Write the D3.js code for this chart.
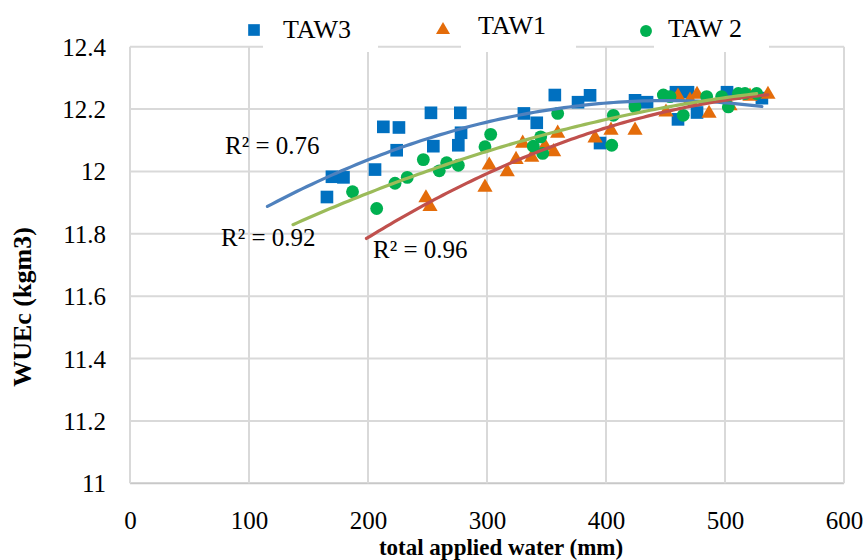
<!DOCTYPE html>
<html><head><meta charset="utf-8">
<script src="https://cdn.jsdelivr.net/npm/d3@7"></script>
<style>body{margin:0;background:#fff} svg text{font-family:"Liberation Serif","DejaVu Serif",serif;}</style>
</head><body>
<svg id="c" width="868" height="560"></svg>
<script>
// ---------- data ----------
const xTicks = [0, 100, 200, 300, 400, 500, 600];
const yTicks = [11, 11.2, 11.4, 11.6, 11.8, 12, 12.2, 12.4];
const seriesNames = ["TAW3", "TAW1", "TAW 2"];
const xTitle = "total applied water (mm)";
const yTitle = "WUEc (kgm3)";

const taw3X = [165.5, 169.7, 179.4, 205.9, 212.9, 226, 224.1, 252.9, 254.9, 277.6, 278.2, 275.9, 331, 341.8, 357, 376.5, 386.6, 395, 424.4, 434.5, 458.8, 468.9, 460.5, 476.5, 501.7, 531];
const taw3Y = [11.918, 11.983, 11.981, 12.006, 12.143, 12.141, 12.068, 12.188, 12.081, 12.188, 12.124, 12.084, 12.186, 12.156, 12.245, 12.222, 12.244, 12.091, 12.228, 12.222, 12.254, 12.254, 12.167, 12.189, 12.254, 12.235];

const taw1X = [248.7, 252.1, 298.3, 301.9, 317, 324.4, 330, 337.6, 348.7, 356, 359.4, 390.8, 404.2, 424.4, 450.4, 460.5, 476.5, 486.6, 470.6, 504.2, 521, 536.1];
const taw1Y = [11.915, 11.887, 11.949, 12.02, 11.999, 12.038, 12.09, 12.045, 12.081, 12.063, 12.122, 12.107, 12.132, 12.132, 12.19, 12.241, 12.247, 12.186, 12.228, 12.21, 12.241, 12.247];

const taw2X = [187, 207.3, 222.7, 233, 246.5, 259.9, 266.1, 275.9, 298.3, 303.1, 338.9, 345.1, 346.8, 359.4, 406.2, 404.8, 424.4, 448.2, 453.8, 464.9, 484.6, 502.8, 511.2, 516.8, 526.6, 497.2];
const taw2Y = [11.935, 11.881, 11.962, 11.981, 12.038, 12.002, 12.028, 12.02, 12.079, 12.119, 12.081, 12.111, 12.058, 12.186, 12.18, 12.084, 12.207, 12.245, 12.24, 12.18, 12.24, 12.207, 12.25, 12.25, 12.25, 12.24];

const r2Labels = ["R² = 0.76", "R² = 0.92", "R² = 0.96"];
const trendBackward = 50; // backward forecast of the polynomial trendlines

// ---------- styles ----------
const markerColors = ["#0070C0", "#E46C0A", "#00B050"];
const trendColors = ["#4F81BD", "#9BBB59", "#C0504D"];
const serif = "Liberation Serif, DejaVu Serif, serif";

const svg = d3.select("#c");
svg.append("rect").attr("width", 868).attr("height", 560).attr("fill", "#fff");

const x = d3.scaleLinear().domain([0, 600]).range([130, 844]);
const y = d3.scaleLinear().domain([11, 12.4]).range([483.3, 46.7]);

// gridlines
const grid = svg.append("g");
grid.selectAll("line.h").data(yTicks).join("line")
  .attr("x1", x(0)).attr("x2", x(600))
  .attr("y1", d => y(d)).attr("y2", d => y(d))
  .attr("stroke", d => d === 11 ? "#c8c8c8" : "#d9d9d9").attr("stroke-width", 2);
grid.selectAll("line.v").data(xTicks).join("line")
  .attr("y1", y(11)).attr("y2", y(12.4))
  .attr("x1", d => x(d)).attr("x2", d => x(d))
  .attr("stroke", "#d9d9d9").attr("stroke-width", 2);

// axes (labels only)
const xa = svg.append("g").attr("transform", `translate(0,${y(11)})`)
  .call(d3.axisBottom(x).tickValues(xTicks).tickSize(0).tickFormat(d3.format("d")));
xa.select(".domain").remove();
xa.attr("font-family", null);
xa.selectAll("text").attr("y", 46).attr("dy", 0)
  .style("font-family", serif).attr("font-size", 25).attr("fill", "#000");

const ya = svg.append("g").attr("transform", `translate(${x(0)},0)`)
  .call(d3.axisLeft(y).tickValues(yTicks).tickSize(0).tickPadding(24).tickFormat(d => d3.format("")(+d.toFixed(1))));
ya.select(".domain").remove();
ya.attr("font-family", null);
ya.selectAll("text").attr("dy", "0.34em")
  .style("font-family", serif).attr("font-size", 25).attr("fill", "#000");

// series
const series = [
  {name: seriesNames[0], xs: taw3X, ys: taw3Y, sym: d3.symbolSquare, size: 160, color: markerColors[0], trend: trendColors[0]},
  {name: seriesNames[1], xs: taw1X, ys: taw1Y, sym: d3.symbolTriangle, size: 100, color: markerColors[1], trend: trendColors[2]},
  {name: seriesNames[2], xs: taw2X, ys: taw2Y, sym: d3.symbolCircle, size: 130, color: markerColors[2], trend: trendColors[1]}
];

series.forEach(s => {
  const pts = s.xs.map((v, i) => [v, s.ys[i]]);
  svg.append("g").selectAll("path").data(pts).join("path")
    .attr("d", d3.symbol().type(s.sym).size(s.size))
    .attr("transform", d => `translate(${x(d[0])},${y(d[1])})`)
    .attr("fill", s.color);
});

// quadratic least squares fit (Excel polynomial trendline, order 2)
function quadFit(xs, ys) {
  const n = xs.length;
  const S = [0, 0, 0, 0, 0], T = [0, 0, 0];
  for (let i = 0; i < n; i++) {
    const u = xs[i] / 100;
    let p = 1;
    for (let k = 0; k < 5; k++) { S[k] += p; if (k < 3) T[k] += p * ys[i]; p *= u; }
  }
  const A = [[S[0], S[1], S[2], T[0]], [S[1], S[2], S[3], T[1]], [S[2], S[3], S[4], T[2]]];
  for (let c = 0; c < 3; c++) {
    for (let r = c + 1; r < 3; r++) {
      const f = A[r][c] / A[c][c];
      for (let k = c; k < 4; k++) A[r][k] -= f * A[c][k];
    }
  }
  const co = [0, 0, 0];
  for (let r = 2; r >= 0; r--) {
    let s = A[r][3];
    for (let k = r + 1; k < 3; k++) s -= A[r][k] * co[k];
    co[r] = s / A[r][r];
  }
  return xv => { const u = xv / 100; return co[0] + co[1] * u + co[2] * u * u; };
}

const line = d3.line().x(d => x(d[0])).y(d => y(d[1]));
series.forEach(s => {
  const f = quadFit(s.xs, s.ys);
  const lo = d3.min(s.xs) - trendBackward, hi = d3.max(s.xs);
  s.path = d3.range(0, 101).map(i => { const xv = lo + (hi - lo) * i / 100; return [xv, f(xv)]; });
});
series.forEach(s => {
  svg.append("path").datum(s.path).attr("d", line)
    .attr("fill", "none").attr("stroke", s.trend).attr("stroke-width", 3.2).attr("stroke-linecap", "round");
});

// R² labels
const r2Pos = [[225, 154], [221, 246], [373, 258]];
svg.append("g").selectAll("text").data(r2Labels).join("text")
  .attr("x", (d, i) => r2Pos[i][0]).attr("y", (d, i) => r2Pos[i][1])
  .style("font-family", serif).attr("font-size", 25).attr("fill", "#000")
  .text(d => d);

// legend
const legendPos = [
  {mx: 254, my: 30, tx: 283, ty: 38, bx: 263},
  {mx: 443, my: 30, tx: 478, ty: 34, bx: 461},
  {mx: 646, my: 31, tx: 668, ty: 37, bx: 654}
];
const lg = svg.append("g");
series.forEach((s, i) => {
  const p = legendPos[i];
  lg.append("rect").attr("x", p.bx).attr("y", 40).attr("width", 115).attr("height", 12).attr("fill", "#fff");
});
series.forEach((s, i) => {
  const p = legendPos[i];
  lg.append("path").attr("d", d3.symbol().type(s.sym).size(s.size * 0.85))
    .attr("transform", `translate(${p.mx},${p.my})`).attr("fill", s.color);
  lg.append("text").attr("x", p.tx).attr("y", p.ty)
    .style("font-family", serif).attr("font-size", 26).attr("fill", "#000").text(s.name);
});

// axis titles
svg.append("text").attr("x", 501).attr("y", 554.5).attr("text-anchor", "middle")
  .style("font-family", serif).attr("font-size", 23).attr("font-weight", "bold").text(xTitle);
svg.append("text").attr("transform", "translate(31,307) rotate(-90)").attr("text-anchor", "middle")
  .style("font-family", serif).attr("font-size", 26).attr("font-weight", "bold").text(yTitle);
</script>
</body></html>
